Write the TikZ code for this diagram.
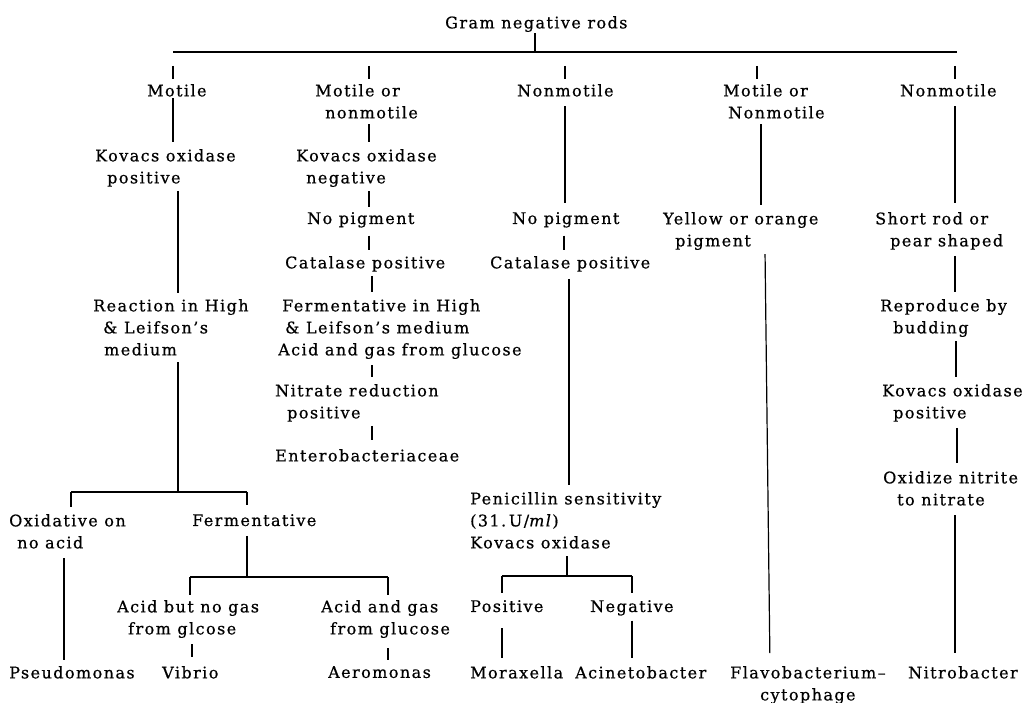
\documentclass[tikz,border=0pt]{standalone}
\usepackage{fontspec}
\setmainfont{DejaVu Serif}[LetterSpace=9,Ligatures=CommonOff,FakeBold=0.6]
\usetikzlibrary{calc}
\newcommand\lbnode[4]{\node[lbl] (#1) at (#2,#3-6) {#4};}
\begin{document}
\begin{tikzpicture}[x=1pt,y=-1pt,
  lbl/.style={font=\fontsize{16}{22}\selectfont, inner sep=0pt, anchor=north west, align=left},
  conn/.style={line width=1.2pt, line cap=butt}]
\fill[white] (0,0) rectangle (1033,703);
\useasboundingbox (0,0) rectangle (1033,703);
% x positions of connectors
\foreach \n/\v in {X535/535,X173/173,X178/178,X71/71,X64/64,X247/247,X190/190,X192/192,X388/388,
  X369/369,X372/372,X565/565,X564/564,X569/569,X567/567,X502/502,X632/632,
  X757/757,X761/761,X765/765,X770/770,X955/955,X956/956,X957/957}
  {\coordinate (\n) at (\v,0);}
% bars
\coordinate (barA) at (173,52); \coordinate (barB) at (957,52);
\coordinate (barC) at (71,492); \coordinate (barD) at (247,492);
\coordinate (barE) at (190,577); \coordinate (barF) at (388,577);
\coordinate (barG) at (502,576); \coordinate (barH) at (632,576);
% nodes
\lbnode{title}{445}{22}{Gram negative rods}
\lbnode{mot}{147}{90}{Motile}
\lbnode{mon}{315}{90}{Motile or\\\hspace*{10pt}nonmotile}
\lbnode{non3}{517}{90}{Nonmotile}
\lbnode{mon4}{723}{90}{Motile or\\\hspace*{5pt}Nonmotile}
\lbnode{non5}{900}{90}{Nonmotile}
% column 1
\lbnode{kp1}{95}{155}{Kovacs oxidase\\\hspace*{12pt}positive}
\lbnode{rea}{93}{305}{Reaction in High\\\hspace*{10pt}\& Leifson’s\\\hspace*{11pt}medium}
\lbnode{oxi}{9}{520}{Oxidative on\\\hspace*{8pt}no acid}
\lbnode{fer}{192}{520}{Fermentative}
\lbnode{anog}{117}{606}{Acid but no gas\\\hspace*{11pt}from glcose}
\lbnode{agas}{321}{606}{Acid and gas\\\hspace*{9pt}from glucose}
\lbnode{pse}{9}{672}{Pseudomonas}
\lbnode{vib}{162}{672}{Vibrio}
\lbnode{aer}{328}{672}{Aeromonas}
% column 2
\lbnode{kn2}{296}{155}{Kovacs oxidase\\\hspace*{10pt}negative}
\lbnode{np2}{307}{218}{No pigment}
\lbnode{cp2}{285}{262}{Catalase positive}
\lbnode{fh2}{278}{305}{\hspace*{4pt}Fermentative in High\\\hspace*{7pt}\& Leifson’s medium\\Acid and gas from glucose}
\lbnode{nr2}{275}{390}{Nitrate reduction\\\hspace*{12pt}positive}
\lbnode{ent}{275}{455}{Enterobacteriaceae}
% column 3
\lbnode{np3}{512}{218}{No pigment}
\lbnode{cp3}{490}{262}{Catalase positive}
\lbnode{pen}{470}{498}{Penicillin sensitivity\\(31.\,U/\textit{ml})\\Kovacs oxidase}
\lbnode{pos}{470}{606}{Positive}
\lbnode{neg}{590}{606}{Negative}
\lbnode{mor}{470}{672}{Moraxella}
\lbnode{aci}{575}{672}{Acinetobacter}
% column 4
\lbnode{yel}{663}{218}{Yellow or orange\\\hspace*{12pt}pigment}
\lbnode{fla}{730}{672}{Flavobacterium--\\\hspace*{30pt}cytophage}
% column 5
\lbnode{sho}{875}{218}{Short rod or\\\hspace*{15pt}pear shaped}
\lbnode{rep}{880}{305}{Reproduce by\\\hspace*{13pt}budding}
\lbnode{kp5}{882}{390}{Kovacs oxidase\\\hspace*{11pt}positive}
\lbnode{oxn}{883}{477}{Oxidize nitrite\\\hspace*{14pt}to nitrate}
\lbnode{nit}{908}{672}{Nitrobacter}
% top level
\draw[conn] (barA) -- (barB);
\draw[conn, shorten <=1pt] (title.south -| X535) -- (barA -| X535);
\draw[conn, shorten <=14pt, shorten >=5pt] (barA -| X173) -- (mot.north -| X173);
\draw[conn, shorten <=14pt, shorten >=5pt] (barA -| X369) -- (mon.north -| X369);
\draw[conn, shorten <=14pt, shorten >=5pt] (barA -| X565) -- (non3.north -| X565);
\draw[conn, shorten <=14pt, shorten >=5pt] (barA -| X757) -- (mon4.north -| X757);
\draw[conn, shorten <=14pt, shorten >=5pt] (barA -| X955) -- (non5.north -| X955);
% column 1
\draw[conn, shorten <=1.5pt, shorten >=7pt] (mot.south -| X173) -- (kp1.north -| X173);
\draw[conn, shorten <=4pt, shorten >=6pt] (kp1.south -| X178) -- (rea.north -| X178);
\draw[conn, shorten <=6.5pt] (rea.south -| X178) -- (barC -| X178);
\draw[conn] (barC) -- (barD);
\draw[conn, shorten >=7pt] (barC) -- (oxi.north -| X71);
\draw[conn, shorten >=9pt] (barD) -- (fer.north -| X247);
\draw[conn, shorten <=9.5pt, shorten >=6pt] (oxi.south -| X64) -- (pse.north -| X64);
\draw[conn, shorten <=9.5pt] (fer.south -| X247) -- (barE -| X247);
\draw[conn] (barE) -- (barF);
\draw[conn, shorten >=5pt] (barE) -- (anog.north -| X190);
\draw[conn, shorten >=5pt] (barF) -- (agas.north -| X388);
\draw[conn, shorten <=6pt, shorten >=9pt] (anog.south -| X192) -- (vib.north -| X192);
\draw[conn, shorten <=10pt, shorten >=6pt] (agas.south -| X388) -- (aer.north -| X388);
% column 2
\draw[conn, shorten <=5.5pt, shorten >=7pt] (mon.south -| X369) -- (kn2.north -| X369);
\draw[conn, shorten <=4pt, shorten >=5pt] (kn2.south -| X369) -- (np2.north -| X369);
\draw[conn, shorten <=8pt, shorten >=6pt] (np2.south -| X369) -- (cp2.north -| X369);
\draw[conn, shorten <=4pt, shorten >=7pt] (cp2.south -| X372) -- (fh2.north -| X372);
\draw[conn, shorten <=6pt, shorten >=7pt] (fh2.south -| X372) -- (nr2.north -| X372);
\draw[conn, shorten <=4pt, shorten >=9pt] (nr2.south -| X372) -- (ent.north -| X372);
% column 3
\draw[conn, shorten <=9.5pt, shorten >=9pt] (non3.south -| X565) -- (np3.north -| X565);
\draw[conn, shorten <=8pt, shorten >=6pt] (np3.south -| X564) -- (cp3.north -| X564);
\draw[conn, shorten <=7pt, shorten >=7pt] (cp3.south -| X569) -- (pen.north -| X569);
\draw[conn, shorten <=7.5pt] (pen.south -| X567) -- (barG -| X567);
\draw[conn] (barG) -- (barH);
\draw[conn, shorten >=7pt] (barG) -- (pos.north -| X502);
\draw[conn, shorten >=7pt] (barH) -- (neg.north -| X632);
\draw[conn, shorten <=16pt, shorten >=8pt] (pos.south -| X502) -- (mor.north -| X502);
\draw[conn, shorten <=5pt, shorten >=8pt] (neg.south -| X632) -- (aci.north -| X632);
% column 4
\draw[conn, shorten <=5.5pt, shorten >=7pt] (mon4.south -| X761) -- (yel.north -| X761);
\draw[conn, shorten <=4pt, shorten >=13pt] (yel.south -| X765) -- (fla.north -| X770);
% column 5
\draw[conn, shorten <=9.5pt, shorten >=9pt] (non5.south -| X955) -- (sho.north -| X955);
\draw[conn, shorten <=6pt, shorten >=7pt] (sho.south -| X955) -- (rep.north -| X955);
\draw[conn, shorten <=4pt, shorten >=7pt] (rep.south -| X956) -- (kp5.north -| X956);
\draw[conn, shorten <=6pt, shorten >=8pt] (kp5.south -| X957) -- (oxn.north -| X957);
\draw[conn, shorten <=9.5pt, shorten >=13pt] (oxn.south -| X955) -- (nit.north -| X955);
\end{tikzpicture}
\end{document}
